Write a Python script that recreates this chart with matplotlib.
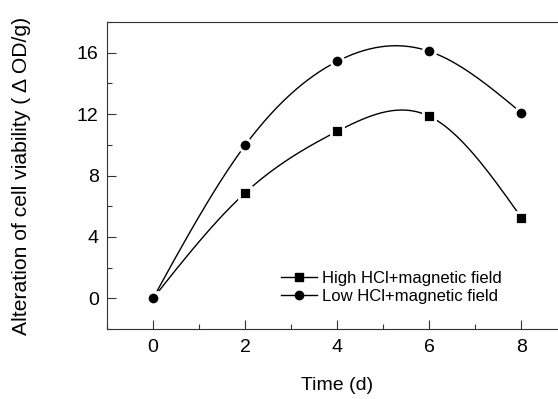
import matplotlib.pyplot as plt
import numpy as np

plt.rcParams['font.family'] = ['Liberation Sans', 'DejaVu Sans']

days = [0, 2, 4, 6, 8]
high_hcl = [0, 6.87, 10.88, 11.86, 5.25]
low_hcl = [0, 9.97, 15.44, 16.09, 12.08]
labels = ['High HCl+magnetic field', 'Low HCl+magnetic field']


def natural_spline(x, y, n=200):
    # natural cubic spline, just for drawing the smooth connecting line
    x = np.asarray(x, float)
    y = np.asarray(y, float)
    k = len(x)
    h = np.diff(x)
    A = np.zeros((k, k))
    b = np.zeros(k)
    A[0, 0] = A[-1, -1] = 1
    for i in range(1, k - 1):
        A[i, i - 1] = h[i - 1]
        A[i, i] = 2 * (h[i - 1] + h[i])
        A[i, i + 1] = h[i]
        b[i] = 6 * ((y[i + 1] - y[i]) / h[i] - (y[i] - y[i - 1]) / h[i - 1])
    m = np.linalg.solve(A, b)
    xs = np.linspace(x[0], x[-1], n)
    idx = np.clip(np.searchsorted(x, xs) - 1, 0, k - 2)
    x0, x1 = x[idx], x[idx + 1]
    hh = x1 - x0
    t0, t1 = x1 - xs, xs - x0
    ys = (m[idx] * t0 ** 3 + m[idx + 1] * t1 ** 3) / (6 * hh) \
        + (y[idx] / hh - m[idx] * hh / 6) * t0 + (y[idx + 1] / hh - m[idx + 1] * hh / 6) * t1
    return xs, ys


fig = plt.figure(figsize=(5.58, 3.99), dpi=100)
ax = fig.add_axes([107 / 558, 70 / 399, 460.5 / 558, 307 / 399])

for vals, marker, lab in [(high_hcl, 's', labels[0]), (low_hcl, 'o', labels[1])]:
    xs, ys = natural_spline(days, vals)
    ax.plot(xs, ys, color='black', lw=1.0, zorder=2)
    ax.plot(days, vals, linestyle='none', marker=marker, color='black',
            markersize=9, markeredgecolor='white', markeredgewidth=2, zorder=3)
    ax.plot([], [], color='black', lw=1.0, marker=marker, markersize=6, label=lab)

ax.set_xlim(-1, 9)
ax.set_ylim(-2, 18)
ax.set_xticks([0, 2, 4, 6, 8])
ax.set_xticks([-1, 1, 3, 5, 7, 9], minor=True)
ax.set_yticks([0, 4, 8, 12, 16])
ax.set_yticks([-2, 2, 6, 10, 14, 18], minor=True)
ax.tick_params(which='both', direction='in', labelsize=14, width=0.8, color='#333333')
ax.tick_params(axis='x', pad=7)
ax.tick_params(axis='y', pad=6)
ax.tick_params(which='major', length=6.5)
ax.tick_params(which='minor', length=3.5)
ax.spines['right'].set_visible(False)
for s in ['left', 'top', 'bottom']:
    ax.spines[s].set_linewidth(0.8)
    ax.spines[s].set_color('#333333')

ax.set_xlabel('Time (d)', fontsize=14)
ax.xaxis.set_label_coords(0.5, -0.155)
ax.set_ylabel('Alteration of cell viability ( \u0394 OD/g)', fontsize=15.2)
ax.yaxis.set_label_coords(-0.165, 0.498)

ax.legend(loc='upper left', bbox_to_anchor=(0.36, 0.215), frameon=False, fontsize=12,
          handlelength=2.15, handletextpad=0.3, labelspacing=0.15, borderpad=0)

fig.savefig('out.png', dpi=100)
